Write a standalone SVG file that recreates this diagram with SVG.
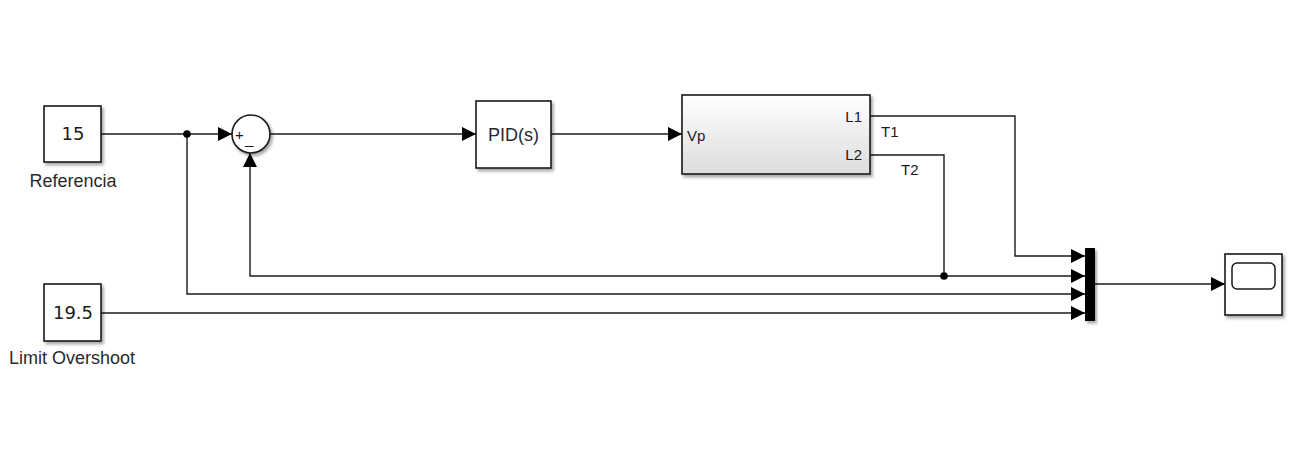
<svg xmlns="http://www.w3.org/2000/svg" width="1311" height="474" viewBox="0 0 1311 474">
  <style>
    .blk { fill: #ffffff; stroke: #1a1a1a; stroke-width: 1.6; filter: url(#shadow); }
    .wire { fill: none; stroke: #1a1a1a; stroke-width: 1.4; }
    .arr { fill: none; stroke: #1a1a1a; stroke-width: 1.4; marker-end: url(#ah); }
    .lbl { font-family: "Liberation Sans", Arial, sans-serif; font-size: 18px; fill: #2a2a2a; }
    .num { font-family: "DejaVu Sans", sans-serif; font-size: 18px; fill: #1a1a1a; }
    .port { font-family: "Liberation Sans", Arial, sans-serif; font-size: 15px; fill: #1a1a1a; }
    .dot { fill: #000000; }
  </style>
  <defs>
    <filter id="shadow" x="-20%" y="-20%" width="150%" height="150%">
      <feDropShadow dx="2" dy="2.5" stdDeviation="1.8" flood-color="#000000" flood-opacity="0.35"/>
    </filter>
    <linearGradient id="plantFill" x1="0" y1="0" x2="0" y2="1">
      <stop offset="0" stop-color="#ffffff"/>
      <stop offset="1" stop-color="#dcdcdc"/>
    </linearGradient>
    <marker id="ah" viewBox="0 0 14 14" refX="14" refY="7" markerWidth="14" markerHeight="14" markerUnits="userSpaceOnUse" orient="auto">
      <path d="M0,0 L14,7 L0,14 Z" fill="#000000"/>
    </marker>
  </defs>

  <rect width="1311" height="474" fill="#ffffff"/>

  <!-- signal lines -->
  <g id="connectors">
    <!-- reference to sum -->
    <path class="arr" d="M101,134 H232"/>
    <!-- sum to PID -->
    <path class="arr" d="M270,134 H476"/>
    <!-- PID to plant -->
    <path class="arr" d="M551,134 H682"/>
    <!-- L1 (T1) to mux input 1 -->
    <path class="arr" d="M870,116 H1015 V256 H1085"/>
    <!-- L2 (T2) to mux input 2 -->
    <path class="arr" d="M870,155 H944 V276 H1085"/>
    <!-- feedback of T2 to sum -->
    <path class="arr" d="M944,276 H250 V153"/>
    <!-- reference branch to mux input 3 -->
    <path class="arr" d="M187,134 V294 H1085"/>
    <!-- overshoot limit to mux input 4 -->
    <path class="arr" d="M101,313 H1085"/>
    <!-- mux to scope -->
    <path class="arr" d="M1095,284 H1225"/>
    <circle class="dot" cx="187" cy="134" r="3.8"/>
    <circle class="dot" cx="944" cy="276" r="3.8"/>
    <text class="port" x="881" y="137">T1</text>
    <text class="port" x="901" y="175">T2</text>
  </g>

  <g id="referencia">
    <rect class="blk" x="44" y="106" width="57" height="56"/>
    <text class="num" x="73" y="140" text-anchor="middle">15</text>
    <text class="lbl" x="73" y="187" text-anchor="middle">Referencia</text>
  </g>

  <g id="limit-overshoot">
    <rect class="blk" x="44" y="284" width="57" height="57"/>
    <text class="num" x="73" y="319" text-anchor="middle">19.5</text>
    <text class="lbl" x="72" y="364" text-anchor="middle">Limit Overshoot</text>
  </g>

  <g id="sum">
    <circle class="blk" cx="251" cy="134" r="19"/>
    <text class="port" x="235" y="140" font-size="15">+</text>
    <text class="port" x="245" y="144" font-size="15">_</text>
  </g>

  <g id="pid">
    <rect class="blk" x="476" y="101" width="75" height="67"/>
    <text class="lbl" x="513.5" y="141" text-anchor="middle">PID(s)</text>
  </g>

  <g id="plant">
    <rect class="blk" x="682" y="95" width="188" height="79" style="fill:url(#plantFill)"/>
    <text class="port" x="687" y="141" font-size="16">Vp</text>
    <text class="port" x="862" y="122" text-anchor="end">L1</text>
    <text class="port" x="862" y="160" text-anchor="end">L2</text>
  </g>

  <g id="mux">
    <rect x="1085" y="248" width="10" height="73" fill="#000000" filter="url(#shadow)"/>
  </g>

  <g id="scope">
    <rect class="blk" x="1225" y="254" width="57" height="61"/>
    <rect x="1232" y="263" width="43" height="26" rx="5" fill="#ffffff" stroke="#1a1a1a" stroke-width="1.5"/>
  </g>
</svg>
